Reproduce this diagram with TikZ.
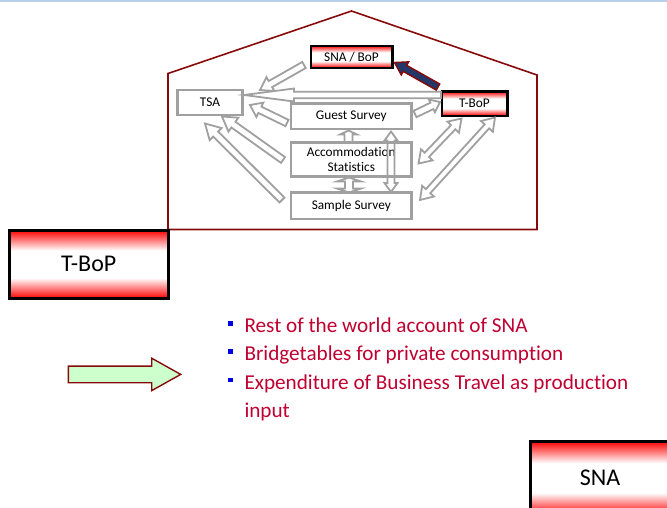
\documentclass[tikz,border=0pt]{standalone}
\usepackage{fontspec}
\setmainfont{Carlito}[Ligatures=NoCommon]
\usetikzlibrary{calc}
\definecolor{boxgray}{RGB}{160,160,160}
\definecolor{housered}{RGB}{135,10,10}
\definecolor{txtred}{RGB}{192,0,48}
\definecolor{bulblue}{RGB}{0,0,230}
\definecolor{navyfill}{RGB}{35,55,105}
\definecolor{lgreen}{RGB}{204,255,204}
\definecolor{toplinec}{RGB}{185,208,235}
\pgfdeclareverticalshading{redband}{100bp}{color(0bp)=(red); color(25bp)=(red); color(40bp)=(white); color(60bp)=(white); color(75bp)=(red); color(100bp)=(red)}
\tikzset{
  sarrow/.style n args={3}{to path={
    ($(\tikztostart)!#1pt!90:(\tikztotarget)$)
    -- ($(\tikztotarget)!#3pt!(\tikztostart)!#1pt!-90:(\tikztostart)$)
    -- ($(\tikztotarget)!#3pt!(\tikztostart)!#2pt!-90:(\tikztostart)$)
    -- (\tikztotarget)
    -- ($(\tikztotarget)!#3pt!(\tikztostart)!#2pt!90:(\tikztostart)$)
    -- ($(\tikztotarget)!#3pt!(\tikztostart)!#1pt!90:(\tikztostart)$)
    -- ($(\tikztostart)!#1pt!-90:(\tikztotarget)$)
    -- cycle}},
  darrow/.style n args={3}{to path={
    (\tikztostart)
    -- ($(\tikztostart)!#3pt!(\tikztotarget)!#2pt!90:(\tikztotarget)$)
    -- ($(\tikztostart)!#3pt!(\tikztotarget)!#1pt!90:(\tikztotarget)$)
    -- ($(\tikztotarget)!#3pt!(\tikztostart)!#1pt!-90:(\tikztostart)$)
    -- ($(\tikztotarget)!#3pt!(\tikztostart)!#2pt!-90:(\tikztostart)$)
    -- (\tikztotarget)
    -- ($(\tikztotarget)!#3pt!(\tikztostart)!#2pt!90:(\tikztostart)$)
    -- ($(\tikztotarget)!#3pt!(\tikztostart)!#1pt!90:(\tikztostart)$)
    -- ($(\tikztostart)!#3pt!(\tikztotarget)!#1pt!-90:(\tikztotarget)$)
    -- ($(\tikztostart)!#3pt!(\tikztotarget)!#2pt!-90:(\tikztotarget)$)
    -- cycle}},
  grayarr/.style={draw=boxgray, line width=1.8pt, line join=miter},
  navyarr/.style={draw=housered, fill=navyfill, line width=1.4pt},
  greenarr/.style={draw=housered, fill=lgreen, line width=1.4pt},
  graybox/.style={draw=boxgray, line width=2.5pt, fill=white, inner sep=0pt,
    font=\fontsize{13.3}{15}\selectfont, align=center},
  redsmall/.style={draw=black, line width=2.4pt, shade, shading=redband, inner sep=0pt,
    font=\fontsize{13.3}{15}\selectfont},
  redbig/.style={draw=black, line width=3pt, shade, shading=redband, inner sep=0pt,
    font=\fontsize{24}{28}\selectfont},
  house/.style={draw=housered, line width=1.6pt, line join=miter},
  bultext/.style={text=txtred, font=\fontsize{21.2}{26}\selectfont, inner sep=0pt, anchor=base west},
  bulsq/.style={fill=bulblue, minimum size=4.7pt, inner sep=0pt},
}
\begin{document}
\begin{tikzpicture}[x=1pt,y=-1pt]
\useasboundingbox (0,0) rectangle (667,507);
% top rule
\draw[toplinec, line width=2pt] (0,1) -- (667,1);
% house
\draw[house] (168,73.5) -- (351.5,11) -- (537,75) -- (537,229.5) -- (168,229.5) -- cycle;
% boxes
\node[redsmall, minimum width=81.6pt, minimum height=22pt] (snabop) at (351.5,56.7) {SNA / BoP};
\node[redsmall, minimum width=65.6pt, minimum height=24.4pt] (tbops) at (474.5,103.5) {T-BoP};
\node[graybox, minimum width=65.4pt, minimum height=25pt] (tsa) at (210,102.5) {TSA};
\node[graybox, minimum width=120.7pt, minimum height=25.7pt] (guest) at (351.3,116.2) {Guest Survey};
\node[graybox, minimum width=120.7pt, minimum height=34.4pt] (accom) at (351.3,159.5) {Accommodation\\Statistics};
\node[graybox, minimum width=120.7pt, minimum height=26.3pt] (sample) at (351.3,205.8) {Sample Survey};
% arrow end points
\coordinate (a1s) at (304,65);    \coordinate (a1e) at (260,90);
\coordinate (a2s) at (441,95);    \coordinate (a2e) at (244,95);
\coordinate (a3s) at (287,123);   \coordinate (a3e) at (250,105);
\coordinate (a4s) at (283,160);   \coordinate (a4e) at (222,116.5);
\coordinate (a5s) at (282,200);   \coordinate (a5e) at (205,123.5);
\coordinate (a6s) at (415,114);   \coordinate (a6e) at (440,102);
\coordinate (a7s) at (438,87);    \coordinate (a7e) at (394.5,62.5);
\coordinate (d1s) at (418.5,163.5); \coordinate (d1e) at (461.5,118.5);
\coordinate (d2s) at (420,200);   \coordinate (d2e) at (495,117.5);
\coordinate (d3s) at (391,192);   \coordinate (d3e) at (391,131.5);
\coordinate (s1s) at (348.5,142.5); \coordinate (s1e) at (348.5,130.5);
\coordinate (d4s) at (349,177.5); \coordinate (d4e) at (349,192.5);
% gray arrows
\draw[grayarr] (a1s) to[sarrow={3.5}{8}{12}] (a1e);
\draw[grayarr] (a2s) to[sarrow={3.3}{6.5}{50}] (a2e);
\draw[grayarr] (a3s) to[sarrow={3.5}{8}{11}] (a3e);
\draw[grayarr] (a4s) to[sarrow={3.5}{8.5}{14}] (a4e);
\draw[grayarr] (a5s) to[sarrow={3.5}{8.5}{15}] (a5e);
\draw[grayarr] (a6s) to[sarrow={3.5}{7}{9}] (a6e);
\draw[grayarr] (d1s) to[darrow={3}{8}{12}] (d1e);
\draw[grayarr] (d2s) to[darrow={3}{8}{12}] (d2e);
\draw[grayarr] (d3s) to[darrow={3.5}{6.5}{9}] (d3e);
\draw[grayarr] (s1s) to[sarrow={4}{8.5}{4}] (s1e);
\draw[grayarr] (d4s) to[darrow={4}{12}{4}] (d4e);
% navy arrow
\draw[navyarr] (a7s) to[sarrow={3.5}{7.5}{12}] (a7e);
% big boxes
\node[redbig, minimum width=159.3pt, minimum height=68.3pt] (tbopbig) at (88.7,264.2) {T-BoP};
\node[redbig, minimum width=140pt, minimum height=74pt] (snabig) at (600,478) {SNA};
% green arrow
\coordinate (gs) at (68.3,374.4); \coordinate (ge) at (180.7,374.4);
\draw[greenarr] (gs) to[sarrow={8.3}{16.2}{29}] (ge);
% bullet list
\node[bulsq] (b1) at (230.8,323.8) {};
\node[bulsq] (b2) at (230.8,351.7) {};
\node[bulsq] (b3) at (230.8,380) {};
\node[bultext] (l1) at (244.3,332.3) {Rest of the world account of SNA};
\node[bultext] (l2) at (244.3,360.7) {Bridgetables for private consumption};
\node[bultext] (l3) at (244.3,389) {Expenditure of Business Travel as production};
\node[bultext] (l4) at (244.3,417.3) {input};
\end{tikzpicture}
\end{document}
